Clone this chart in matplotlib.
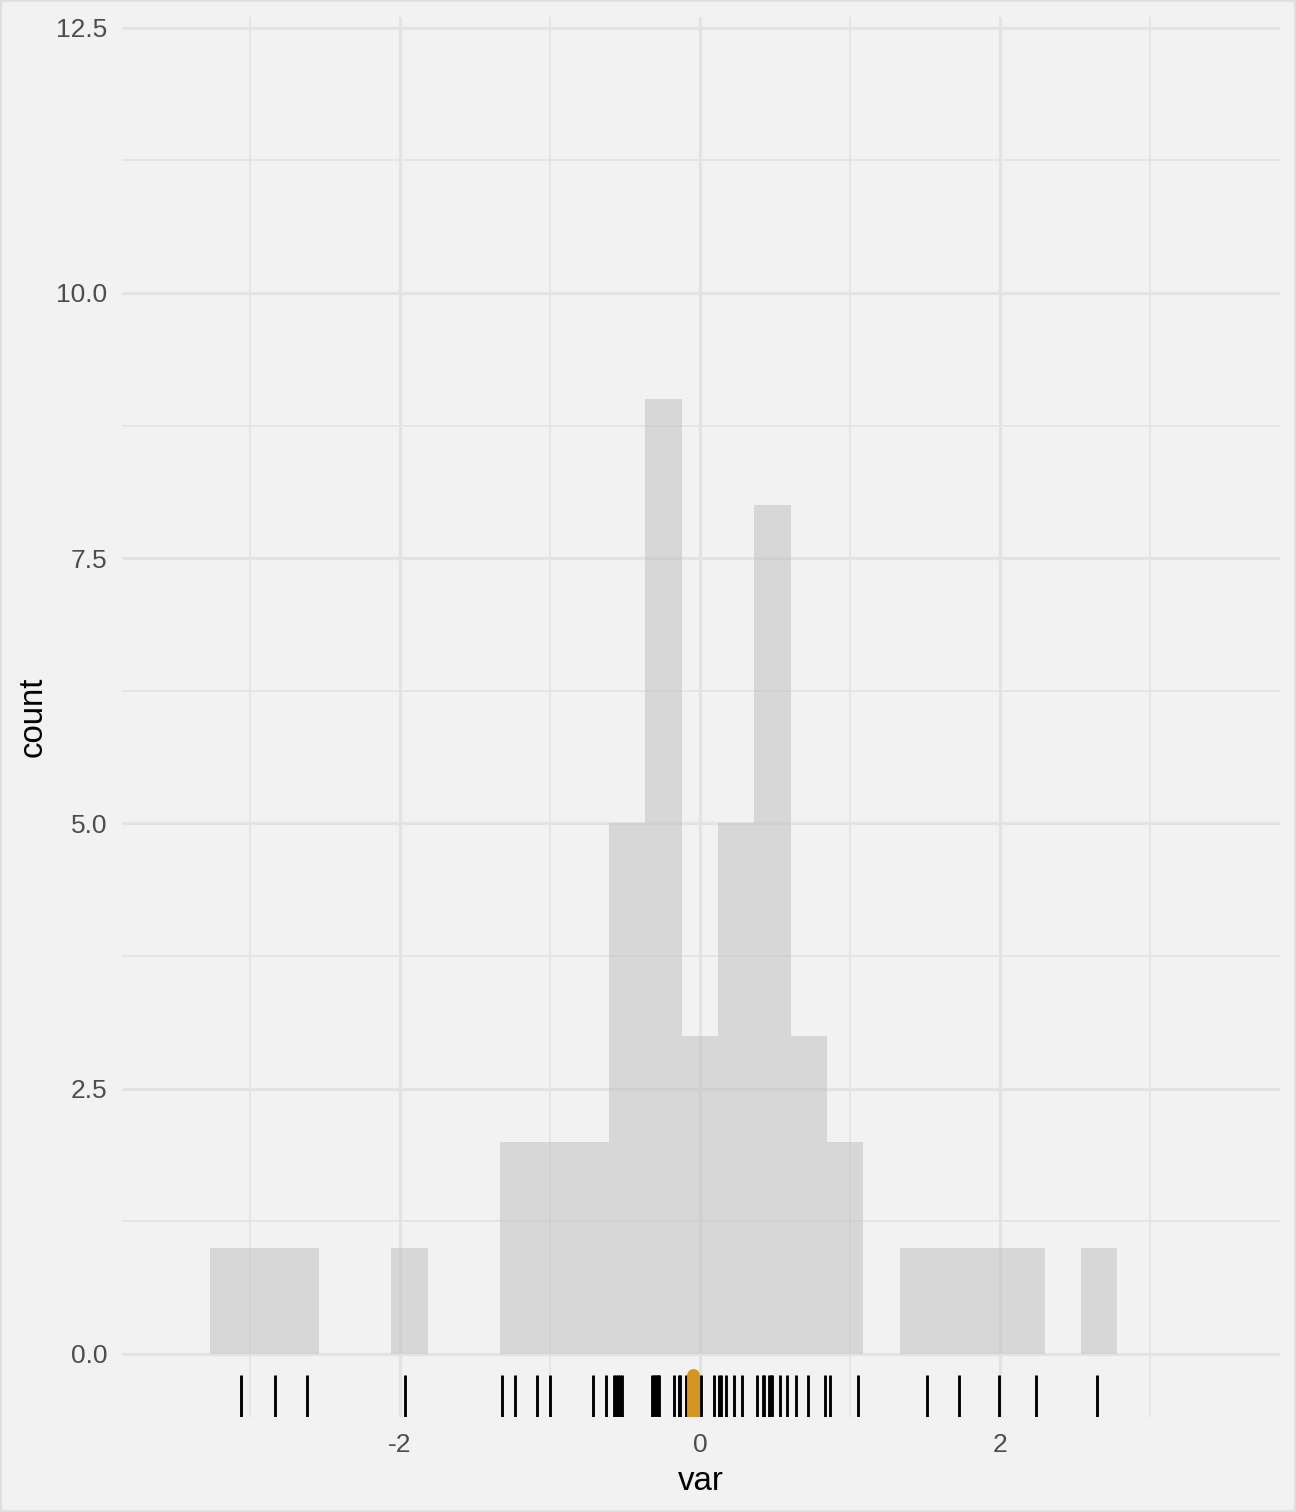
import numpy as np
import matplotlib
matplotlib.use("Agg")
import matplotlib.pyplot as plt
from matplotlib.patches import Rectangle

plt.rcParams['font.family'] = ['Liberation Sans', 'DejaVu Sans']
plt.rcParams['axes.unicode_minus'] = False

# ---- data ----
var_values = [
    -3.060, -2.831, -2.620, -1.965, -1.322, -1.233, -1.085, -1.002, -0.715, -0.625,
    -0.570, -0.557, -0.543, -0.530, -0.517,
    -0.317, -0.307, -0.297, -0.287, -0.280, -0.273,
    -0.173, -0.140, -0.130,
    -0.093, 0.007, 0.093,
    0.128, 0.138, 0.173, 0.227, 0.282,
    0.380, 0.418, 0.427, 0.460, 0.473, 0.483, 0.533, 0.578,
    0.640, 0.722, 0.835,
    0.869, 1.055,
    1.515, 1.729, 1.995, 2.240, 2.647,
]
n_bins = 25
bin_range = (-3.267, 2.783)

x_major = [-2, 0, 2]
x_major_labels = ["-2", "0", "2"]
x_minor = [-3, -1, 1, 3]
y_major = [0.0, 2.5, 5.0, 7.5, 10.0, 12.5]
y_major_labels = ["0.0", "2.5", "5.0", "7.5", "10.0", "12.5"]
y_minor = [1.25, 3.75, 6.25, 8.75, 11.25]

x_limits = (-3.853, 3.867)
y_limits = (-0.594, 12.60)

# ---- style ----
bg = "#F2F2F2"
grid_col = "#E3E3E3"
text_col = "#4D4D4D"

fig = plt.figure(figsize=(6, 7), dpi=216, facecolor=bg)
ax = fig.add_axes([122 / 1296, 1 - 1417 / 1512, (1280 - 122) / 1296, (1417 - 17) / 1512])
ax.set_facecolor(bg)

ax.hist(var_values, bins=n_bins, range=bin_range, histtype="stepfilled",
        facecolor="#BEBEBE", alpha=0.5, edgecolor="none", linewidth=0, zorder=2)

# rug
xt = ax.get_xaxis_transform()
ax.vlines(var_values, 0, 0.03, transform=xt, colors="black", linewidth=0.95, zorder=3)
m = float(np.mean(var_values))
ax.plot([m, m], [-0.05, 0.03], transform=xt, color="#D4961F", linewidth=4.3,
        solid_capstyle="round", zorder=4)

ax.set_xlim(*x_limits)
ax.set_ylim(*y_limits)

ax.set_xticks(x_major)
ax.set_xticklabels(x_major_labels)
ax.set_xticks(x_minor, minor=True)
ax.set_yticks(y_major)
ax.set_yticklabels(y_major_labels)
ax.set_yticks(y_minor, minor=True)

ax.set_axisbelow(True)
ax.grid(which="major", color=grid_col, linewidth=1.07)
ax.grid(which="minor", color=grid_col, linewidth=0.55)

ax.tick_params(which="both", length=0)
ax.tick_params(axis="x", pad=5.5, labelsize=8.8, labelcolor=text_col)
ax.tick_params(axis="y", pad=5.0, labelsize=8.8, labelcolor=text_col)

for s in ax.spines.values():
    s.set_visible(False)

ax.set_xlabel("var", fontsize=11, color="black", labelpad=3)
ax.set_ylabel("count", fontsize=11, color="black", labelpad=2.5)

fig.patches.append(Rectangle((0, 0), 1, 1, transform=fig.transFigure, fill=False,
                             edgecolor="#DEDEDE", linewidth=1.2))

fig.savefig("out.png", dpi=216, facecolor=bg)
